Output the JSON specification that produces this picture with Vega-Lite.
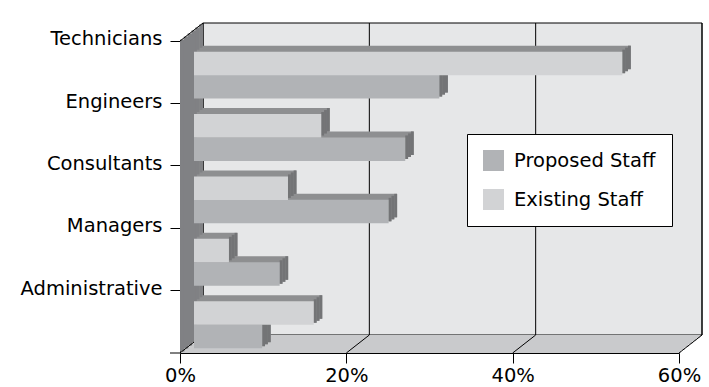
{
  "$schema": "https://vega.github.io/schema/vega-lite/v6.json",
  "width": 499,
  "height": 312,
  "autosize": {"type": "none"},
  "padding": {"left": 180, "top": 41, "right": 30, "bottom": 34},
  "background": "white",
  "config": {
    "view": {"stroke": null},
    "axis": {"labelFont": "DejaVu Sans", "labelFontSize": 19.5, "labelColor": "#000", "tickColor": "#000", "domainColor": "#000", "tickWidth": 1, "domainWidth": 1, "grid": false}
  },
  "data": {
    "values": [
      {"category": "Technicians", "staff": "Existing Staff", "value": 51.5},
      {"category": "Technicians", "staff": "Proposed Staff", "value": 29.5},
      {"category": "Engineers", "staff": "Existing Staff", "value": 15.3},
      {"category": "Engineers", "staff": "Proposed Staff", "value": 25.4},
      {"category": "Consultants", "staff": "Existing Staff", "value": 11.3},
      {"category": "Consultants", "staff": "Proposed Staff", "value": 23.4},
      {"category": "Managers", "staff": "Existing Staff", "value": 4.2},
      {"category": "Managers", "staff": "Proposed Staff", "value": 10.3},
      {"category": "Administrative", "staff": "Existing Staff", "value": 14.4},
      {"category": "Administrative", "staff": "Proposed Staff", "value": 8.2}
    ]
  },
  "layer": [
    {"data": {"values": [{}]}, "mark": {"type": "rect", "fill": "#e6e7e8", "stroke": "#000", "strokeWidth": 1, "xOffset": 23, "x2Offset": 23, "yOffset": -18, "y2Offset": -18},
     "encoding": {"x": {"datum": 0, "type": "quantitative", "scale": {"domain": [0, 60], "nice": false}, "axis": {"title": null, "values": [0, 20, 40, 60], "labelExpr": "datum.value + '%'", "tickSize": 10, "labelPadding": 3, "labelFlush": false}}, "x2": {"datum": 60}, "y": {"value": 0}, "y2": {"value": "height"}}},
    {"data": {"values": [{"t": 0}, {"t": 20}, {"t": 40}, {"t": 60}]}, "mark": {"type": "rule", "color": "#000", "strokeWidth": 1, "xOffset": 23, "yOffset": -18, "y2Offset": -18},
     "encoding": {"x": {"field": "t", "type": "quantitative", "axis": {"title": null, "values": [0, 20, 40, 60], "labelExpr": "datum.value + '%'", "tickSize": 10, "labelPadding": 3, "labelFlush": false}}, "y": {"value": 0}, "y2": {"value": "height"}}},

    {"data": {"values": [{}]}, "mark": {"type": "rect", "fill": "#c9cacc", "xOffset": 1.92, "x2Offset": 1.92, "yOffset": 0, "y2Offset": -3.5},
     "encoding": {"x": {"datum": 0, "type": "quantitative", "axis": {"title": null, "values": [0, 20, 40, 60], "labelExpr": "datum.value + '%'", "tickSize": 10, "labelPadding": 3, "labelFlush": false}}, "x2": {"datum": 60}, "y": {"value": "height"}, "y2": {"value": "height"}}},
    {"data": {"values": [{}]}, "mark": {"type": "rect", "fill": "#c9cacc", "xOffset": 5.75, "x2Offset": 5.75, "yOffset": -3, "y2Offset": -6.5},
     "encoding": {"x": {"datum": 0, "type": "quantitative", "axis": {"title": null, "values": [0, 20, 40, 60], "labelExpr": "datum.value + '%'", "tickSize": 10, "labelPadding": 3, "labelFlush": false}}, "x2": {"datum": 60}, "y": {"value": "height"}, "y2": {"value": "height"}}},
    {"data": {"values": [{}]}, "mark": {"type": "rect", "fill": "#c9cacc", "xOffset": 9.58, "x2Offset": 9.58, "yOffset": -6, "y2Offset": -9.5},
     "encoding": {"x": {"datum": 0, "type": "quantitative", "axis": {"title": null, "values": [0, 20, 40, 60], "labelExpr": "datum.value + '%'", "tickSize": 10, "labelPadding": 3, "labelFlush": false}}, "x2": {"datum": 60}, "y": {"value": "height"}, "y2": {"value": "height"}}},
    {"data": {"values": [{}]}, "mark": {"type": "rect", "fill": "#c9cacc", "xOffset": 13.42, "x2Offset": 13.42, "yOffset": -9, "y2Offset": -12.5},
     "encoding": {"x": {"datum": 0, "type": "quantitative", "axis": {"title": null, "values": [0, 20, 40, 60], "labelExpr": "datum.value + '%'", "tickSize": 10, "labelPadding": 3, "labelFlush": false}}, "x2": {"datum": 60}, "y": {"value": "height"}, "y2": {"value": "height"}}},
    {"data": {"values": [{}]}, "mark": {"type": "rect", "fill": "#c9cacc", "xOffset": 17.25, "x2Offset": 17.25, "yOffset": -12, "y2Offset": -15.5},
     "encoding": {"x": {"datum": 0, "type": "quantitative", "axis": {"title": null, "values": [0, 20, 40, 60], "labelExpr": "datum.value + '%'", "tickSize": 10, "labelPadding": 3, "labelFlush": false}}, "x2": {"datum": 60}, "y": {"value": "height"}, "y2": {"value": "height"}}},
    {"data": {"values": [{}]}, "mark": {"type": "rect", "fill": "#c9cacc", "xOffset": 21.08, "x2Offset": 21.08, "yOffset": -15, "y2Offset": -18},
     "encoding": {"x": {"datum": 0, "type": "quantitative", "axis": {"title": null, "values": [0, 20, 40, 60], "labelExpr": "datum.value + '%'", "tickSize": 10, "labelPadding": 3, "labelFlush": false}}, "x2": {"datum": 60}, "y": {"value": "height"}, "y2": {"value": "height"}}},

    {"data": {"values": [{}]}, "mark": {"type": "rect", "fill": "#808184", "xOffset": 0, "x2Offset": 4.5, "yOffset": -1.5, "y2Offset": -1.5},
     "encoding": {"x": {"datum": 0, "type": "quantitative", "axis": {"title": null, "values": [0, 20, 40, 60], "labelExpr": "datum.value + '%'", "tickSize": 10, "labelPadding": 3, "labelFlush": false}}, "x2": {"datum": 0}, "y": {"value": 0}, "y2": {"value": "height"}}},
    {"data": {"values": [{}]}, "mark": {"type": "rect", "fill": "#808184", "xOffset": 3.83, "x2Offset": 8.3, "yOffset": -4.5, "y2Offset": -4.5},
     "encoding": {"x": {"datum": 0, "type": "quantitative", "axis": {"title": null, "values": [0, 20, 40, 60], "labelExpr": "datum.value + '%'", "tickSize": 10, "labelPadding": 3, "labelFlush": false}}, "x2": {"datum": 0}, "y": {"value": 0}, "y2": {"value": "height"}}},
    {"data": {"values": [{}]}, "mark": {"type": "rect", "fill": "#808184", "xOffset": 7.67, "x2Offset": 12.1, "yOffset": -7.5, "y2Offset": -7.5},
     "encoding": {"x": {"datum": 0, "type": "quantitative", "axis": {"title": null, "values": [0, 20, 40, 60], "labelExpr": "datum.value + '%'", "tickSize": 10, "labelPadding": 3, "labelFlush": false}}, "x2": {"datum": 0}, "y": {"value": 0}, "y2": {"value": "height"}}},
    {"data": {"values": [{}]}, "mark": {"type": "rect", "fill": "#808184", "xOffset": 11.5, "x2Offset": 16, "yOffset": -10.5, "y2Offset": -10.5},
     "encoding": {"x": {"datum": 0, "type": "quantitative", "axis": {"title": null, "values": [0, 20, 40, 60], "labelExpr": "datum.value + '%'", "tickSize": 10, "labelPadding": 3, "labelFlush": false}}, "x2": {"datum": 0}, "y": {"value": 0}, "y2": {"value": "height"}}},
    {"data": {"values": [{}]}, "mark": {"type": "rect", "fill": "#808184", "xOffset": 15.33, "x2Offset": 19.8, "yOffset": -13.5, "y2Offset": -13.5},
     "encoding": {"x": {"datum": 0, "type": "quantitative", "axis": {"title": null, "values": [0, 20, 40, 60], "labelExpr": "datum.value + '%'", "tickSize": 10, "labelPadding": 3, "labelFlush": false}}, "x2": {"datum": 0}, "y": {"value": 0}, "y2": {"value": "height"}}},
    {"data": {"values": [{}]}, "mark": {"type": "rect", "fill": "#808184", "xOffset": 19.17, "x2Offset": 23, "yOffset": -16.5, "y2Offset": -16.5},
     "encoding": {"x": {"datum": 0, "type": "quantitative", "axis": {"title": null, "values": [0, 20, 40, 60], "labelExpr": "datum.value + '%'", "tickSize": 10, "labelPadding": 3, "labelFlush": false}}, "x2": {"datum": 0}, "y": {"value": 0}, "y2": {"value": "height"}}},

    {"data": {"values": [{}]}, "mark": {"type": "rule", "color": "#000", "strokeWidth": 1, "x2Offset": 23, "y2Offset": -18},
     "encoding": {"x": {"datum": 0, "type": "quantitative", "axis": {"title": null, "values": [0, 20, 40, 60], "labelExpr": "datum.value + '%'", "tickSize": 10, "labelPadding": 3, "labelFlush": false}}, "x2": {"datum": 0}, "y": {"value": 0}, "y2": {"value": 0}}},
    {"data": {"values": [{"t": 0}, {"t": 20}, {"t": 40}, {"t": 60}]}, "mark": {"type": "rule", "color": "#000", "strokeWidth": 1, "x2Offset": 23, "y2Offset": -18},
     "encoding": {"x": {"field": "t", "type": "quantitative", "axis": {"title": null, "values": [0, 20, 40, 60], "labelExpr": "datum.value + '%'", "tickSize": 10, "labelPadding": 3, "labelFlush": false}}, "x2": {"field": "t"}, "y": {"value": "height"}, "y2": {"value": "height"}}},
    {"data": {"values": [{}]}, "mark": {"type": "rule", "color": "#000", "strokeWidth": 1, "xOffset": -10},
     "encoding": {"x": {"datum": 0, "type": "quantitative", "axis": {"title": null, "values": [0, 20, 40, 60], "labelExpr": "datum.value + '%'", "tickSize": 10, "labelPadding": 3, "labelFlush": false}}, "x2": {"datum": 0}, "y": {"value": "height"}}},

    {"transform": [{"filter": "datum.staff === 'Proposed Staff'"}], "mark": {"type": "bar", "size": 23.5, "color": "#8e8f91", "xOffset": 22.5, "x2Offset": 22.5, "yOffset": 8.6},
     "encoding": {"x": {"field": "value", "type": "quantitative", "axis": {"title": null, "values": [0, 20, 40, 60], "labelExpr": "datum.value + '%'", "tickSize": 10, "labelPadding": 3, "labelFlush": false}}, "y": {"field": "category", "type": "nominal", "sort": ["Technicians", "Engineers", "Consultants", "Managers", "Administrative"], "scale": {"paddingInner": 0, "paddingOuter": 0}, "axis": {"title": null, "bandPosition": 0, "tickSize": 10, "labelPadding": 8, "labelOffset": -33}}}},
    {"transform": [{"filter": "datum.staff === 'Proposed Staff'"}], "mark": {"type": "bar", "size": 23.5, "color": "#8e8f91", "xOffset": 19.67, "x2Offset": 19.67, "yOffset": 10.6},
     "encoding": {"x": {"field": "value", "type": "quantitative", "axis": {"title": null, "values": [0, 20, 40, 60], "labelExpr": "datum.value + '%'", "tickSize": 10, "labelPadding": 3, "labelFlush": false}}, "y": {"field": "category", "type": "nominal", "sort": ["Technicians", "Engineers", "Consultants", "Managers", "Administrative"], "axis": {"title": null, "bandPosition": 0, "tickSize": 10, "labelPadding": 8, "labelOffset": -33}}}},
    {"transform": [{"filter": "datum.staff === 'Proposed Staff'"}], "mark": {"type": "bar", "size": 23.5, "color": "#8e8f91", "xOffset": 16.83, "x2Offset": 16.83, "yOffset": 12.6},
     "encoding": {"x": {"field": "value", "type": "quantitative", "axis": {"title": null, "values": [0, 20, 40, 60], "labelExpr": "datum.value + '%'", "tickSize": 10, "labelPadding": 3, "labelFlush": false}}, "y": {"field": "category", "type": "nominal", "sort": ["Technicians", "Engineers", "Consultants", "Managers", "Administrative"], "axis": {"title": null, "bandPosition": 0, "tickSize": 10, "labelPadding": 8, "labelOffset": -33}}}},
    {"transform": [{"filter": "datum.staff === 'Proposed Staff'"}], "mark": {"type": "bar", "size": 23.5, "color": "#737476", "xOffset": 16.83, "x2Offset": 14, "yOffset": 12.6},
     "encoding": {"x": {"field": "value", "type": "quantitative", "axis": {"title": null, "values": [0, 20, 40, 60], "labelExpr": "datum.value + '%'", "tickSize": 10, "labelPadding": 3, "labelFlush": false}}, "x2": {"field": "value"}, "y": {"field": "category", "type": "nominal", "sort": ["Technicians", "Engineers", "Consultants", "Managers", "Administrative"], "axis": {"title": null, "bandPosition": 0, "tickSize": 10, "labelPadding": 8, "labelOffset": -33}}}},
    {"transform": [{"filter": "datum.staff === 'Proposed Staff'"}], "mark": {"type": "bar", "size": 23.5, "color": "#737476", "xOffset": 19.67, "x2Offset": 16.83, "yOffset": 10.6},
     "encoding": {"x": {"field": "value", "type": "quantitative", "axis": {"title": null, "values": [0, 20, 40, 60], "labelExpr": "datum.value + '%'", "tickSize": 10, "labelPadding": 3, "labelFlush": false}}, "x2": {"field": "value"}, "y": {"field": "category", "type": "nominal", "sort": ["Technicians", "Engineers", "Consultants", "Managers", "Administrative"], "axis": {"title": null, "bandPosition": 0, "tickSize": 10, "labelPadding": 8, "labelOffset": -33}}}},
    {"transform": [{"filter": "datum.staff === 'Proposed Staff'"}], "mark": {"type": "bar", "size": 23.5, "color": "#737476", "xOffset": 22.5, "x2Offset": 19.67, "yOffset": 8.6},
     "encoding": {"x": {"field": "value", "type": "quantitative", "axis": {"title": null, "values": [0, 20, 40, 60], "labelExpr": "datum.value + '%'", "tickSize": 10, "labelPadding": 3, "labelFlush": false}}, "x2": {"field": "value"}, "y": {"field": "category", "type": "nominal", "sort": ["Technicians", "Engineers", "Consultants", "Managers", "Administrative"], "axis": {"title": null, "bandPosition": 0, "tickSize": 10, "labelPadding": 8, "labelOffset": -33}}}},
    {"transform": [{"filter": "datum.staff === 'Proposed Staff'"}], "mark": {"type": "bar", "size": 23.5, "xOffset": 14, "x2Offset": 14, "yOffset": 14.6},
     "encoding": {"x": {"field": "value", "type": "quantitative", "axis": {"title": null, "values": [0, 20, 40, 60], "labelExpr": "datum.value + '%'", "tickSize": 10, "labelPadding": 3, "labelFlush": false}},
       "y": {"field": "category", "type": "nominal", "sort": ["Technicians", "Engineers", "Consultants", "Managers", "Administrative"], "axis": {"title": null, "bandPosition": 0, "tickSize": 10, "labelPadding": 8, "labelOffset": -33}},
       "color": {"field": "staff", "type": "nominal", "scale": {"domain": ["Proposed Staff", "Existing Staff"], "range": ["#b1b3b6", "#d2d3d5"]},
         "legend": {"title": null, "orient": "none", "legendX": 287, "legendY": 93, "fillColor": "white", "strokeColor": "#000", "padding": 16, "symbolType": "square", "symbolSize": 441, "symbolStrokeWidth": 0, "labelFontSize": 19.5, "labelFont": "DejaVu Sans", "labelColor": "#000", "rowPadding": 18, "labelOffset": 10}}}},

    {"transform": [{"filter": "datum.staff === 'Existing Staff'"}], "mark": {"type": "bar", "size": 23.5, "color": "#8e8f91", "xOffset": 22.5, "x2Offset": 22.5, "yOffset": -14.8},
     "encoding": {"x": {"field": "value", "type": "quantitative", "axis": {"title": null, "values": [0, 20, 40, 60], "labelExpr": "datum.value + '%'", "tickSize": 10, "labelPadding": 3, "labelFlush": false}}, "y": {"field": "category", "type": "nominal", "sort": ["Technicians", "Engineers", "Consultants", "Managers", "Administrative"], "axis": {"title": null, "bandPosition": 0, "tickSize": 10, "labelPadding": 8, "labelOffset": -33}}}},
    {"transform": [{"filter": "datum.staff === 'Existing Staff'"}], "mark": {"type": "bar", "size": 23.5, "color": "#8e8f91", "xOffset": 19.67, "x2Offset": 19.67, "yOffset": -12.8},
     "encoding": {"x": {"field": "value", "type": "quantitative", "axis": {"title": null, "values": [0, 20, 40, 60], "labelExpr": "datum.value + '%'", "tickSize": 10, "labelPadding": 3, "labelFlush": false}}, "y": {"field": "category", "type": "nominal", "sort": ["Technicians", "Engineers", "Consultants", "Managers", "Administrative"], "axis": {"title": null, "bandPosition": 0, "tickSize": 10, "labelPadding": 8, "labelOffset": -33}}}},
    {"transform": [{"filter": "datum.staff === 'Existing Staff'"}], "mark": {"type": "bar", "size": 23.5, "color": "#8e8f91", "xOffset": 16.83, "x2Offset": 16.83, "yOffset": -10.8},
     "encoding": {"x": {"field": "value", "type": "quantitative", "axis": {"title": null, "values": [0, 20, 40, 60], "labelExpr": "datum.value + '%'", "tickSize": 10, "labelPadding": 3, "labelFlush": false}}, "y": {"field": "category", "type": "nominal", "sort": ["Technicians", "Engineers", "Consultants", "Managers", "Administrative"], "axis": {"title": null, "bandPosition": 0, "tickSize": 10, "labelPadding": 8, "labelOffset": -33}}}},
    {"transform": [{"filter": "datum.staff === 'Existing Staff'"}], "mark": {"type": "bar", "size": 23.5, "color": "#737476", "xOffset": 16.83, "x2Offset": 14, "yOffset": -10.8},
     "encoding": {"x": {"field": "value", "type": "quantitative", "axis": {"title": null, "values": [0, 20, 40, 60], "labelExpr": "datum.value + '%'", "tickSize": 10, "labelPadding": 3, "labelFlush": false}}, "x2": {"field": "value"}, "y": {"field": "category", "type": "nominal", "sort": ["Technicians", "Engineers", "Consultants", "Managers", "Administrative"], "axis": {"title": null, "bandPosition": 0, "tickSize": 10, "labelPadding": 8, "labelOffset": -33}}}},
    {"transform": [{"filter": "datum.staff === 'Existing Staff'"}], "mark": {"type": "bar", "size": 23.5, "color": "#737476", "xOffset": 19.67, "x2Offset": 16.83, "yOffset": -12.8},
     "encoding": {"x": {"field": "value", "type": "quantitative", "axis": {"title": null, "values": [0, 20, 40, 60], "labelExpr": "datum.value + '%'", "tickSize": 10, "labelPadding": 3, "labelFlush": false}}, "x2": {"field": "value"}, "y": {"field": "category", "type": "nominal", "sort": ["Technicians", "Engineers", "Consultants", "Managers", "Administrative"], "axis": {"title": null, "bandPosition": 0, "tickSize": 10, "labelPadding": 8, "labelOffset": -33}}}},
    {"transform": [{"filter": "datum.staff === 'Existing Staff'"}], "mark": {"type": "bar", "size": 23.5, "color": "#737476", "xOffset": 22.5, "x2Offset": 19.67, "yOffset": -14.8},
     "encoding": {"x": {"field": "value", "type": "quantitative", "axis": {"title": null, "values": [0, 20, 40, 60], "labelExpr": "datum.value + '%'", "tickSize": 10, "labelPadding": 3, "labelFlush": false}}, "x2": {"field": "value"}, "y": {"field": "category", "type": "nominal", "sort": ["Technicians", "Engineers", "Consultants", "Managers", "Administrative"], "axis": {"title": null, "bandPosition": 0, "tickSize": 10, "labelPadding": 8, "labelOffset": -33}}}},
    {"transform": [{"filter": "datum.staff === 'Existing Staff'"}], "mark": {"type": "bar", "size": 23.5, "xOffset": 14, "x2Offset": 14, "yOffset": -8.8},
     "encoding": {"x": {"field": "value", "type": "quantitative", "axis": {"title": null, "values": [0, 20, 40, 60], "labelExpr": "datum.value + '%'", "tickSize": 10, "labelPadding": 3, "labelFlush": false}},
       "y": {"field": "category", "type": "nominal", "sort": ["Technicians", "Engineers", "Consultants", "Managers", "Administrative"], "axis": {"title": null, "bandPosition": 0, "tickSize": 10, "labelPadding": 8, "labelOffset": -33}},
       "color": {"field": "staff", "type": "nominal", "scale": {"domain": ["Proposed Staff", "Existing Staff"], "range": ["#b1b3b6", "#d2d3d5"]},
         "legend": {"title": null, "orient": "none", "legendX": 287, "legendY": 93, "fillColor": "white", "strokeColor": "#000", "padding": 16, "symbolType": "square", "symbolSize": 441, "symbolStrokeWidth": 0, "labelFontSize": 19.5, "labelFont": "DejaVu Sans", "labelColor": "#000", "rowPadding": 18, "labelOffset": 10}}}}
  ]
}
